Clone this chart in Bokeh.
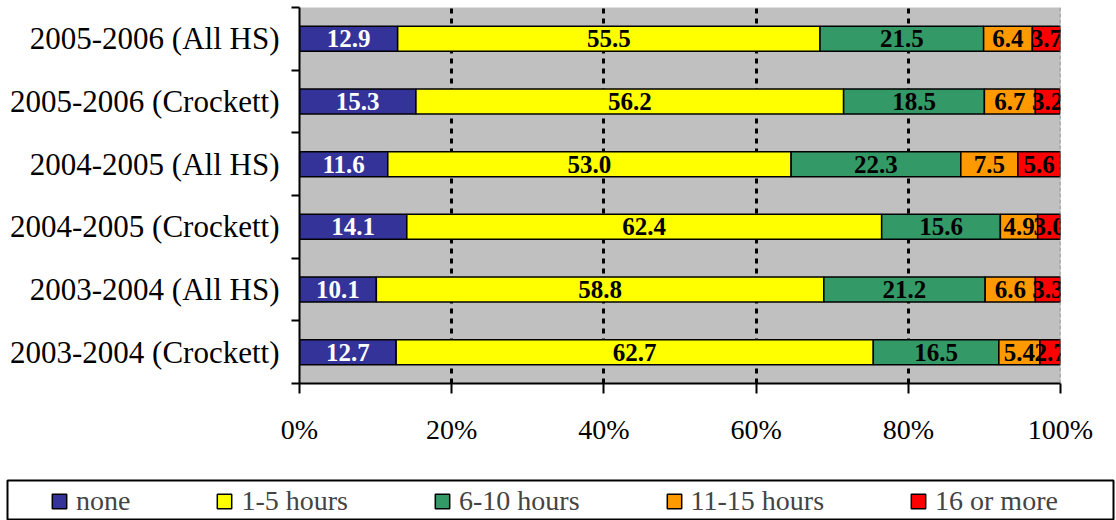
from bokeh.plotting import figure
from bokeh.models import (ColumnDataSource, FixedTicker, PrintfTickFormatter, Span,
                          Legend, LegendItem, Range1d)
from bokeh.core.properties import value
from bokeh.embed import file_html
from bokeh.resources import INLINE

categories = ["2005-2006 (All HS)", "2005-2006 (Crockett)", "2004-2005 (All HS)",
              "2004-2005 (Crockett)", "2003-2004 (All HS)", "2003-2004 (Crockett)"]
series = ["none", "1-5 hours", "6-10 hours", "11-15 hours", "16 or more"]
none_vals = [12.9, 15.3, 11.6, 14.1, 10.1, 12.7]
h1_5 = [55.5, 56.2, 53.0, 62.4, 58.8, 62.7]
h6_10 = [21.5, 18.5, 22.3, 15.6, 21.2, 16.5]
h11_15 = [6.4, 6.7, 7.5, 4.9, 6.6, 5.4]
h16_more = [3.7, 3.2, 5.6, 3.0, 3.3, 2.7]
colors = ["#333399", "#FFFF00", "#339966", "#FF9900", "#FF0000"]
label_colors = ["white", "black", "black", "black", "black"]
x_ticks = [0, 20, 40, 60, 80, 100]

FONT = "Liberation Serif"
n = len(categories)
ypos = [n - i - 0.5 for i in range(n)]
values = [none_vals, h1_5, h6_10, h11_15, h16_more]

data = {"y": ypos}
for s, v in zip(series, values):
    data[s] = v
src = ColumnDataSource(data)

p = figure(width=1116, height=479, x_range=Range1d(0, 100), y_range=Range1d(0, n),
           output_backend="svg", toolbar_location=None,
           min_border_left=299, min_border_right=56, min_border_top=7, min_border_bottom=96)
p.background_fill_color = "#C0C0C0"
p.border_fill_color = "white"
p.outline_line_color = None

p.hbar_stack(series, y="y", height=0.4, fill_color=colors, line_color="black",
             line_width=1.5, source=src)

# segment labels
lx, ly, lt, lc = [], [], [], []
for i in range(n):
    start = 0.0
    for j, v in enumerate(values):
        lx.append(start + v[i] / 2.0)
        ly.append(ypos[i])
        lt.append("%.1f" % v[i])
        lc.append(label_colors[j])
        start += v[i]
lsrc = ColumnDataSource(dict(x=lx, y=ly, text=lt, color=lc))
p.text(x="x", y="y", text="text", text_color="color", source=lsrc,
       text_font=value(FONT), text_font_style="bold", text_font_size="25px",
       text_align="center", text_baseline="middle")

# x axis
p.xaxis.ticker = FixedTicker(ticks=x_ticks)
p.xaxis.formatter = PrintfTickFormatter(format="%d%%")
p.xaxis.major_tick_out = 10
p.xaxis.major_tick_in = 0
p.xaxis.minor_tick_out = 0
p.xaxis.minor_tick_in = 0
p.xaxis.axis_line_width = 2
p.xaxis.axis_line_color = "black"
p.xaxis.major_tick_line_width = 2
p.xaxis.major_tick_line_color = "black"
p.xaxis.major_label_standoff = 20
p.xaxis.major_label_text_font = FONT
p.xaxis.major_label_text_font_size = "28px"
p.xaxis.major_label_text_color = "black"

# y axis: labels at bar centres, ticks at category boundaries
p.yaxis.ticker = FixedTicker(ticks=ypos, minor_ticks=list(range(n + 1)))
p.yaxis.major_label_overrides = {y: c for y, c in zip(ypos, categories)}
p.yaxis.major_tick_out = 0
p.yaxis.major_tick_in = 0
p.yaxis.major_tick_line_color = None
p.yaxis.minor_tick_out = 8
p.yaxis.minor_tick_in = 0
p.yaxis.minor_tick_line_color = "black"
p.yaxis.minor_tick_line_width = 2
p.yaxis.axis_line_width = 2
p.yaxis.axis_line_color = "black"
p.yaxis.major_label_standoff = 12
p.yaxis.major_label_text_font = FONT
p.yaxis.major_label_text_font_size = "31px"
p.yaxis.major_label_text_color = "black"

p.ygrid.visible = False
p.xgrid.ticker = FixedTicker(ticks=x_ticks[1:-1])
p.xgrid.grid_line_color = "black"
p.xgrid.grid_line_dash = "5 5"
p.xgrid.grid_line_width = 3

p.add_layout(Span(location=x_ticks[-1], dimension="height", line_color="#808080",
                  line_dash="4 2", line_width=1.5))

# legend strip: a second figure whose frame outline is the legend box.
# The same stacked bars are drawn there but outside its y range (only the legend shows).
p2 = figure(width=1116, height=41, x_range=Range1d(0, 100), y_range=Range1d(n + 10, n + 11),
            output_backend="svg", toolbar_location=None,
            min_border_left=7, min_border_right=3, min_border_top=1, min_border_bottom=0,
            x_axis_type=None, y_axis_type=None)
p2.grid.visible = False
p2.background_fill_color = "white"
p2.border_fill_color = "white"
p2.outline_line_color = "black"
p2.outline_line_width = 2
leg_bars = p2.hbar_stack(series, y="y", height=0.4, fill_color=colors, line_color="black",
                         line_width=1.5, source=src)
legend = Legend(items=[LegendItem(label=s, renderers=[r]) for s, r in zip(series, leg_bars)],
                location=(43, 3), orientation="horizontal", spacing=85,
                label_standoff=8, glyph_width=18, glyph_height=18,
                label_text_font=FONT, label_text_font_size="28px",
                border_line_color=None, background_fill_alpha=0, padding=0, margin=0)
p2.add_layout(legend, "center")

open("out.html", "w").write(file_html([p, p2], INLINE))
